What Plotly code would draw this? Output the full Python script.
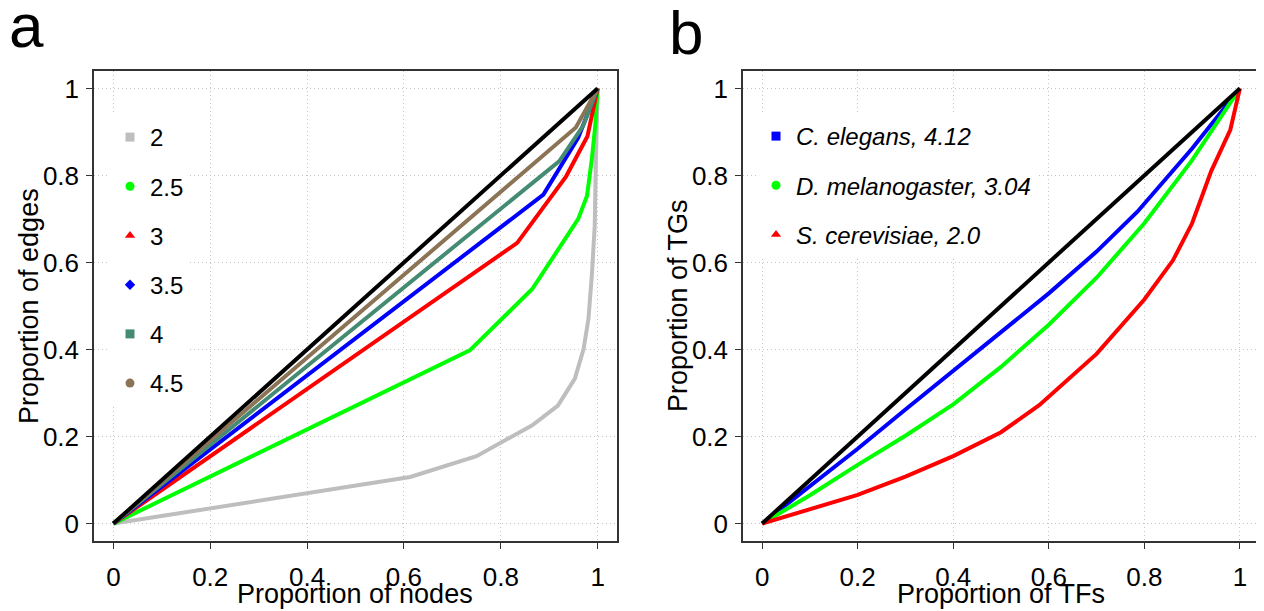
import plotly.graph_objects as go

# page body has an 8px margin; figure is sized to fit the remaining viewport
OFF = 8
W, H = 1264 - OFF, 611 - OFF


def px(x):
    return (x - OFF) / W


def py(y):
    return 1 - (y - OFF) / H


# ---------------- Panel a data ----------------
gamma_labels = ["2", "2.5", "3", "3.5", "4", "4.5"]
gamma_colors = ["#bebebe", "#00ff00", "#ff0000", "#0000ff", "#458b74", "#8b7355"]
gamma_symbols = ["square", "circle", "triangle-up", "diamond", "square", "circle"]

a_x_2 = [0, 0.613, 0.75, 0.823, 0.865, 0.918, 0.953, 0.971, 0.981, 0.988, 0.994, 0.9965, 1.0]
a_y_2 = [0, 0.107, 0.155, 0.199, 0.226, 0.271, 0.333, 0.401, 0.47, 0.57, 0.684, 0.837, 1.0]
a_x_25 = [0, 0.736, 0.865, 0.922, 0.96, 0.978, 0.988, 0.995, 1.0]
a_y_25 = [0, 0.398, 0.539, 0.634, 0.70, 0.753, 0.837, 0.914, 1.0]
a_x_3 = [0, 0.834, 0.935, 0.979, 1.0]
a_y_3 = [0, 0.645, 0.798, 0.890, 1.0]
a_x_35 = [0, 0.888, 0.96, 1.0]
a_y_35 = [0, 0.756, 0.887, 1.0]
a_x_4 = [0, 0.921, 0.97, 1.0]
a_y_4 = [0, 0.833, 0.914, 1.0]
a_x_45 = [0, 0.955, 1.0]
a_y_45 = [0, 0.91, 1.0]
diag_x = [0, 1]
diag_y = [0, 1]

a_series_x = [a_x_2, a_x_25, a_x_3, a_x_35, a_x_4, a_x_45]
a_series_y = [a_y_2, a_y_25, a_y_3, a_y_35, a_y_4, a_y_45]

# ---------------- Panel b data ----------------
species_labels = ["<i>C. elegans, 4.12</i>", "<i>D. melanogaster, 3.04</i>", "<i>S. cerevisiae, 2.0</i>"]
species_colors = ["#0000ff", "#00ff00", "#ff0000"]
species_symbols = ["square", "circle", "triangle-up"]

b_x_ce = [0, 0.1, 0.2, 0.3, 0.4, 0.5, 0.6, 0.7, 0.785, 0.9, 1.0]
b_y_ce = [0, 0.085, 0.172, 0.262, 0.35, 0.44, 0.529, 0.625, 0.716, 0.862, 1.0]
b_x_dm = [0, 0.1, 0.2, 0.3, 0.4, 0.5, 0.6, 0.7, 0.8, 0.9, 1.0]
b_y_dm = [0, 0.065, 0.135, 0.202, 0.274, 0.36, 0.457, 0.565, 0.69, 0.835, 1.0]
b_x_sc = [0, 0.1, 0.2, 0.3, 0.4, 0.5, 0.58, 0.7, 0.8, 0.86, 0.9, 0.94, 0.98, 1.0]
b_y_sc = [0, 0.032, 0.066, 0.108, 0.155, 0.21, 0.272, 0.39, 0.515, 0.605, 0.69, 0.81, 0.905, 1.0]

b_series_x = [b_x_ce, b_x_dm, b_x_sc]
b_series_y = [b_y_ce, b_y_dm, b_y_sc]

tick_vals = [0, 0.2, 0.4, 0.6, 0.8, 1]
tick_text = ["0", "0.2", "0.4", "0.6", "0.8", "1"]

FONT = "Liberation Sans, Arial, Helvetica, sans-serif"

fig = go.Figure()

# Panel a lines
for lab, col, xs, ys in zip(gamma_labels, gamma_colors, a_series_x, a_series_y):
    fig.add_trace(go.Scatter(x=xs, y=ys, mode="lines", line=dict(color=col, width=4),
                             showlegend=False, xaxis="x", yaxis="y", hoverinfo="skip"))
fig.add_trace(go.Scatter(x=diag_x, y=diag_y, mode="lines", line=dict(color="black", width=4),
                         showlegend=False, xaxis="x", yaxis="y"))
# Panel a legend entries
for i, (lab, col, sym) in enumerate(zip(gamma_labels, gamma_colors, gamma_symbols)):
    sz = 9 if sym != "diamond" else 8
    fig.add_trace(go.Scatter(x=[None], y=[None], mode="markers", name=lab,
                             marker=dict(color=col, symbol=sym, size=sz),
                             legend="legend", legendgroup="a%d" % i,
                             xaxis="x", yaxis="y"))

# Panel b lines
for lab, col, xs, ys in zip(species_labels, species_colors, b_series_x, b_series_y):
    fig.add_trace(go.Scatter(x=xs, y=ys, mode="lines", line=dict(color=col, width=4),
                             showlegend=False, xaxis="x2", yaxis="y2"))
fig.add_trace(go.Scatter(x=diag_x, y=diag_y, mode="lines", line=dict(color="black", width=4),
                         showlegend=False, xaxis="x2", yaxis="y2"))
for i, (lab, col, sym) in enumerate(zip(species_labels, species_colors, species_symbols)):
    fig.add_trace(go.Scatter(x=[None], y=[None], mode="markers", name=lab,
                             marker=dict(color=col, symbol=sym, size=9),
                             legend="legend2", legendgroup="b%d" % i,
                             xaxis="x2", yaxis="y2"))

ydom = [py(541), py(71)]
axis_common = dict(range=[-0.04, 1.04], tickvals=tick_vals, ticktext=tick_text,
                   showgrid=True, gridcolor="#c4c4c4", griddash="1px,3px", gridwidth=1,
                   zeroline=False, showline=True, linecolor="#333333", linewidth=1.5,
                   mirror=True, ticks="outside", ticklen=6, tickcolor="#333333",
                   tickfont=dict(family=FONT, size=26, color="black"), automargin=False,
                   fixedrange=True)
xaxis_extra = dict(ticklabelstandoff=6)
yaxis_extra = dict(ticklabelstandoff=2)

fig.update_layout(
    width=W, height=H,
    margin=dict(l=0, r=0, t=0, b=0),
    paper_bgcolor="white", plot_bgcolor="white",
    font=dict(family=FONT, color="black"),
    xaxis=dict(domain=[px(94), px(617)], anchor="y", **axis_common, **xaxis_extra),
    yaxis=dict(domain=ydom, anchor="x", **axis_common, **yaxis_extra),
    xaxis2=dict(domain=[px(743), px(1259)], anchor="y2", **axis_common, **xaxis_extra),
    yaxis2=dict(domain=ydom, anchor="x2", **axis_common, **yaxis_extra),
    legend=dict(x=px(110), y=py(115), xref="paper", yref="paper",
                xanchor="left", yanchor="top", bgcolor="white", borderwidth=0,
                font=dict(family=FONT, size=24, color="black"),
                tracegroupgap=15, itemwidth=30),
    legend2=dict(x=px(756), y=py(114), xref="paper", yref="paper",
                 xanchor="left", yanchor="top", bgcolor="white", borderwidth=0,
                 font=dict(family=FONT, size=24, color="black"),
                 tracegroupgap=15, itemwidth=30),
    showlegend=True,
)

annos = [
    dict(text="a", x=26, y=26, size=62, angle=0),
    dict(text="b", x=686, y=32, size=62, angle=0),
    dict(text="Proportion of nodes", x=355, y=594, size=27, angle=0),
    dict(text="Proportion of TFs", x=1001, y=594, size=27, angle=0),
    dict(text="Proportion of edges", x=29, y=306, size=27, angle=-90),
    dict(text="Proportion of TGs", x=678, y=306, size=27, angle=-90),
]
for a in annos:
    fig.add_annotation(xref="paper", yref="paper", showarrow=False,
                       xanchor="center", yanchor="middle",
                       text=a["text"], x=px(a["x"]), y=py(a["y"]), textangle=a["angle"],
                       font=dict(family=FONT, color="black", size=a["size"]))

fig.write_html("out.html")
